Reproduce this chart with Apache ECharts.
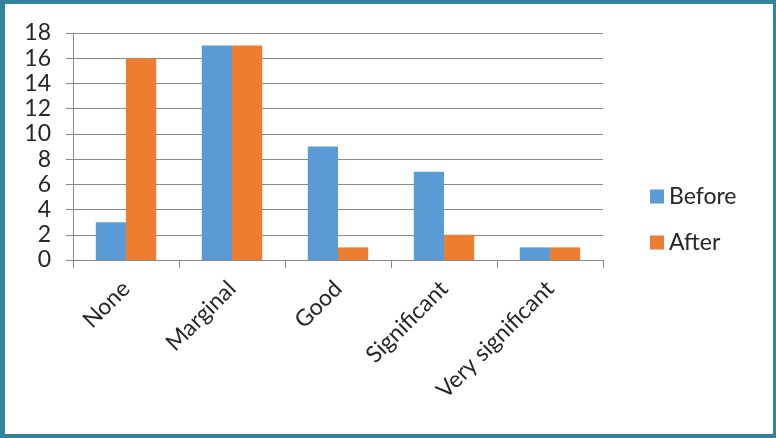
<!DOCTYPE html>
<html>
<head>
<meta charset="utf-8">
<script src="https://cdn.jsdelivr.net/npm/echarts@6/dist/echarts.min.js"></script>
<style>
  html, body { margin: 0; padding: 0; background: #fff; }
  #wrap { position: relative; width: 776px; height: 438px; }
  #chart { position: absolute; left: 0; top: 0; width: 776px; height: 438px; }
  #frame {
    position: absolute; left: 0; top: 0; width: 776px; height: 438px;
    box-sizing: border-box; pointer-events: none;
    border-style: solid; border-color: #31849b;
    border-width: 4px 3px 4px 5px;
  }
</style>
</head>
<body>
<div id="wrap">
  <div id="chart"></div>
  <div id="frame"></div>
</div>
<script>
// Ratings of change, counted before and after
const categories = ['None', 'Marginal', 'Good', 'Significant', 'Very significant'];
const beforeValues = [3, 17, 9, 7, 1];
const afterValues = [16, 17, 1, 2, 1];
const yTicks = [0, 2, 4, 6, 8, 10, 12, 14, 16, 18];

const fontFamily = 'Lato, "Open Sans", sans-serif';
const textColor = '#262626';
const lineColor = '#898989';

const chart = echarts.init(document.getElementById('chart'));
chart.setOption({
  animation: false,
  textStyle: { fontFamily: fontFamily },
  grid: { left: 73, right: 173, top: 33, bottom: 178, containLabel: false },
  legend: {
    orient: 'vertical',
    left: 645,
    top: 180,
    itemWidth: 14,
    itemHeight: 14,
    itemGap: 23,
    icon: 'rect',
    textStyle: { fontSize: 23, color: textColor, fontFamily: fontFamily },
    data: ['Before', 'After']
  },
  xAxis: {
    type: 'category',
    data: categories,
    axisLine: { lineStyle: { color: lineColor, width: 1 } },
    axisTick: { show: true, length: 8, lineStyle: { color: lineColor } },
    axisLabel: {
      rotate: 45,
      margin: 25,
      fontSize: 23,
      color: textColor,
      interval: 0
    }
  },
  yAxis: {
    type: 'value',
    min: yTicks[0],
    max: yTicks[yTicks.length - 1],
    interval: 2,
    axisLine: { show: true, lineStyle: { color: lineColor, width: 1 } },
    axisTick: { show: true, length: 7, lineStyle: { color: lineColor } },
    splitLine: { lineStyle: { color: lineColor, width: 1 } },
    axisLabel: { fontSize: 23, color: textColor, margin: 22 }
  },
  series: [
    {
      name: 'Before',
      type: 'bar',
      data: beforeValues,
      barGap: '0%',
      barCategoryGap: '43%',
      itemStyle: { color: '#5b9bd5' }
    },
    {
      name: 'After',
      type: 'bar',
      data: afterValues,
      itemStyle: { color: '#ed7d31' }
    }
  ]
});
</script>
</body>
</html>
